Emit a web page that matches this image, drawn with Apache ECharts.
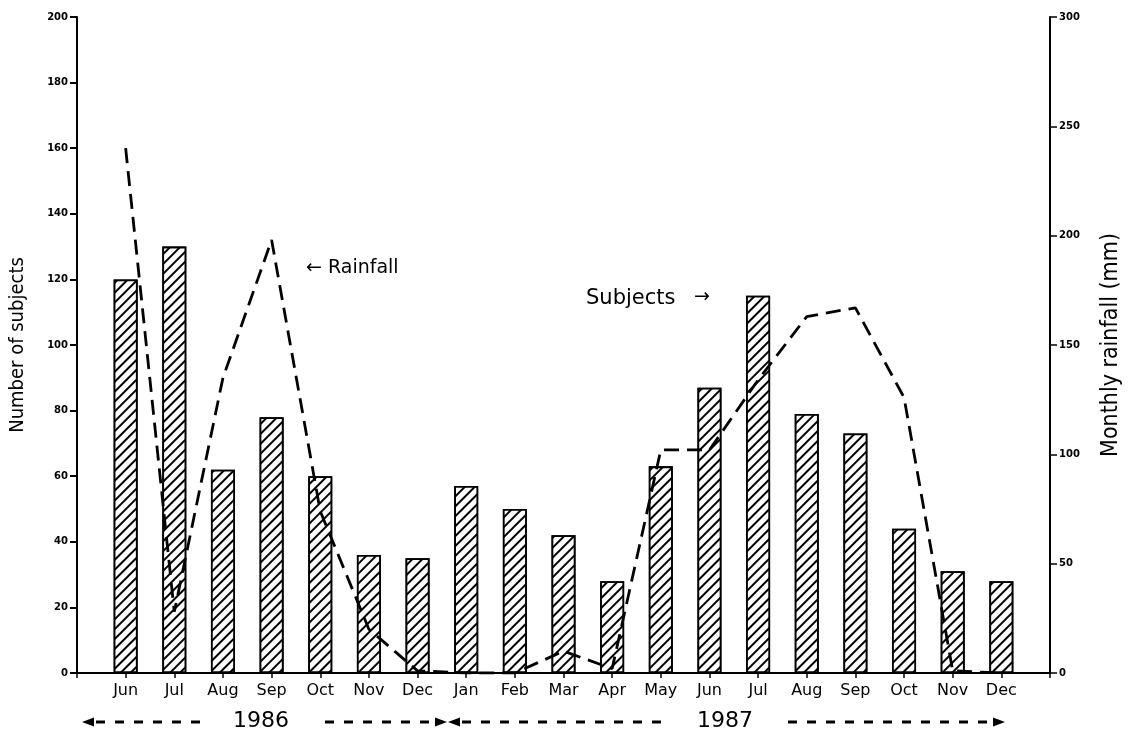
<!DOCTYPE html>
<html>
<head>
<meta charset="utf-8">
<script src="https://cdn.jsdelivr.net/npm/echarts@6/dist/echarts.min.js"></script>
<style>
html,body{margin:0;padding:0;background:#fff;}
#chart{width:1131px;height:736px;}
</style>
</head>
<body>
<div id="chart"></div>
<script>
var months = ['Jun','Jul','Aug','Sep','Oct','Nov','Dec','Jan','Feb','Mar','Apr','May','Jun','Jul','Aug','Sep','Oct','Nov','Dec'];
var subjects = [120,130,62,78,60,36,35,57,50,42,28,63,87,115,79,73,44,31,28];
var rainfall = [240,28,135,198,74,20,1,0,0,10,2,102,102,134,163,167,126,1,0];
var leftTicks = [0,20,40,60,80,100,120,140,160,180,200];
var rightTicks = [0,50,100,150,200,250,300];

// pad one empty category on each side so the months sit inside the axes
var cats = [''].concat(months).concat(['']);
var barData = [null].concat(subjects).concat([null]);
var lineData = [null].concat(rainfall).concat([null]);

var chart = echarts.init(document.getElementById('chart'), null, {renderer:'canvas'});
var axisFont = 'DejaVu Sans';
var nameFont = "'Liberation Sans Narrow','DejaVu Sans Condensed','Liberation Sans',sans-serif";

var dashStyle = {stroke:'#000', lineWidth:3, lineDash:[9,10]};
function dashSeg(x1, x2, y){
  return {type:'line', shape:{x1:x1, y1:y, x2:x2, y2:y}, style:dashStyle, silent:true};
}
function tri(x, y, dir){
  // dir = -1 points left, 1 points right
  return {type:'polygon', shape:{points:[[x, y],[x - dir*12, y-4.5],[x - dir*12, y+4.5]]}, style:{fill:'#000'}, silent:true};
}

chart.setOption({
  animation:false,
  backgroundColor:'#fff',
  grid:{left:75, right:76, top:17, bottom:63, containLabel:false},
  xAxis:{
    type:'category',
    data:cats,
    boundaryGap:false,
    axisLine:{lineStyle:{color:'#000', width:2}},
    axisTick:{show:true, length:5, lineStyle:{color:'#000', width:1.5}},
    axisLabel:{color:'#000', fontFamily:axisFont, fontSize:16, margin:10, interval:0},
    splitLine:{show:false}
  },
  yAxis:[{
    type:'value', min:leftTicks[0], max:leftTicks[leftTicks.length-1], interval:leftTicks[1]-leftTicks[0],
    position:'left',
    name:'Number of subjects', nameLocation:'middle', nameGap:49, nameRotate:90,
    nameTextStyle:{color:'#000', fontFamily:nameFont, fontSize:20},
    axisLine:{show:true, lineStyle:{color:'#000', width:2}},
    axisTick:{show:true, length:7, lineStyle:{color:'#000', width:2}},
    axisLabel:{color:'#000', fontFamily:axisFont, fontSize:10, fontWeight:'bold', margin:9},
    splitLine:{show:false}
  },{
    type:'value', min:rightTicks[0], max:rightTicks[rightTicks.length-1], interval:rightTicks[1]-rightTicks[0],
    position:'right',
    name:'Monthly rainfall (mm)', nameLocation:'middle', nameGap:50, nameRotate:90,
    nameTextStyle:{color:'#000', fontFamily:nameFont, fontSize:23},
    axisLine:{show:true, lineStyle:{color:'#000', width:2}},
    axisTick:{show:true, length:7, lineStyle:{color:'#000', width:1.5}},
    axisLabel:{color:'#000', fontFamily:axisFont, fontSize:10, fontWeight:'bold', margin:9},
    splitLine:{show:false}
  }],
  series:[{
    name:'Subjects', type:'bar', yAxisIndex:0, data:barData, barWidth:24,
    itemStyle:{
      color:'#fff', borderColor:'#000', borderWidth:1.8,
      decal:{symbol:'rect', symbolSize:1, color:'#000', backgroundColor:'#fff',
             dashArrayX:[1,0], dashArrayY:[1.5,4.2], rotation:-Math.PI/4}
    },
    z:2
  },{
    name:'Rainfall', type:'line', yAxisIndex:1, data:lineData,
    symbol:'none', smooth:false,
    lineStyle:{color:'#000', width:2.8, type:[15,8]},
    z:3
  }],
  graphic:[
    {type:'text', left:306, top:259, style:{text:'\u2190 Rainfall', fill:'#000', font:'19px DejaVu Sans'}},
    {type:'text', left:586, top:288, style:{text:'Subjects', fill:'#000', font:'21px DejaVu Sans'}},
    {type:'text', left:694, top:288, style:{text:'\u2192', fill:'#000', font:'19px DejaVu Sans'}},
    tri(82, 722, -1),
    dashSeg(96, 200, 722),
    {type:'text', left:233, top:710, style:{text:'1986', fill:'#000', font:'22px DejaVu Sans'}},
    dashSeg(325, 432, 722),
    tri(447, 722, 1),
    tri(448, 722, -1),
    dashSeg(462, 668, 722),
    {type:'text', left:697, top:710, style:{text:'1987', fill:'#000', font:'22px DejaVu Sans'}},
    dashSeg(788, 990, 722),
    tri(1005, 722, 1)
  ]
});
</script>
</body>
</html>
